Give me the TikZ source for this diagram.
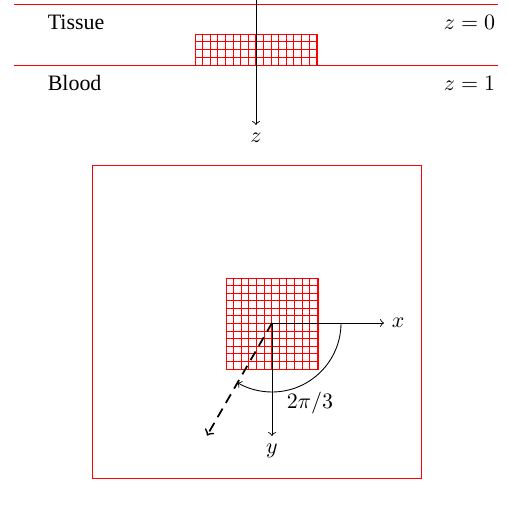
\documentclass[tikz,border=0pt]{standalone}
\usepackage{fontspec}
\setmainfont{Liberation Serif}

\begin{document}
\begin{tikzpicture}[x=0.16mm, y=0.16mm]
    \useasboundingbox (0, 0) rectangle (508, 508);
    % side view
    \draw[red] (14, 504) -- (498, 504);
    \draw[red] (14, 443) -- (498, 443);
    \draw[red, xstep=7.6, ystep=7.75, shift={(195, 443)}] (0, 0) grid (122, 31) (0, 0) rectangle (122, 31);
    \draw[->] (256, 508) -- (256, 383) node[below] (zlab) {$z$};
    \node[right] (tissue) at (40, 486) {Tissue};
    \node[right] (blood) at (40, 425) {Blood};
    \node[left] (zzero) at (503, 486) {$z=0$};
    \node[left] (zone) at (503, 425) {$z=1$};
    % top view
    \draw[red] (92, 30) rectangle (421, 343);
    \draw[red, step=7.6, shift={(226, 139)}] (0, 0) grid (92, 91) (0, 0) rectangle (92, 91);
    \coordinate (o) at (272, 185);
    \draw[->] (o) -- (384, 185) node[right] (xlab) {$x$};
    \draw[->] (o) -- (272, 72) node[below] (ylab) {$y$};
    \draw[->, thick, dash pattern=on 4.5pt off 3pt] (o) -- ++(-120:130) coordinate (d);
    \draw[->] (341, 185) arc (0:-120:69);
    \node (angle) at (310, 105) {$2\pi/3$};
\end{tikzpicture}
\end{document}
